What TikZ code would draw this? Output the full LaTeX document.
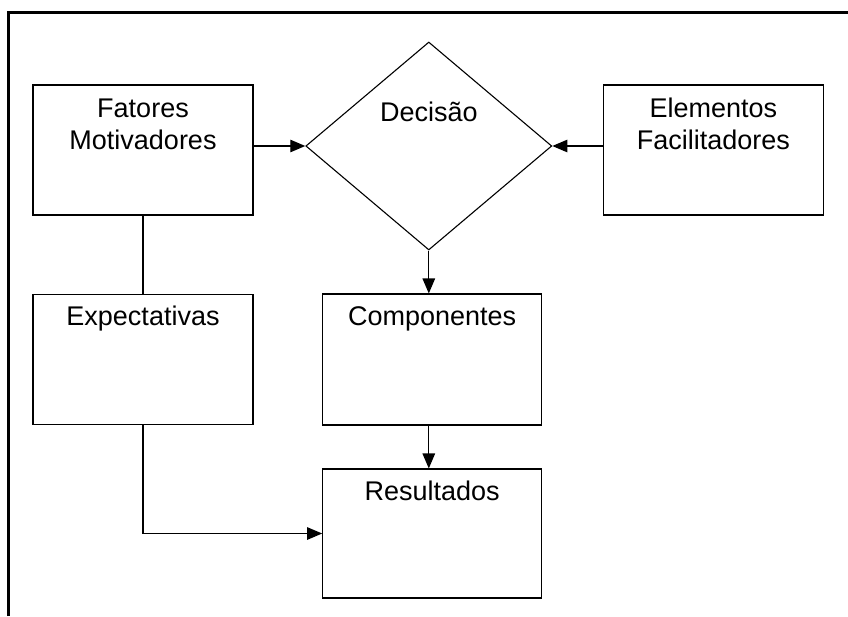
\documentclass[tikz,border=0pt]{standalone}
\usepackage{fontspec}
\setmainfont{Liberation Sans}
\usetikzlibrary{arrows.meta,shapes.geometric}
\begin{document}
\begin{tikzpicture}[x=1pt,y=-1pt,
  box/.style={draw=black, line width=1.1pt, rectangle, inner sep=0pt},
  decision/.style={draw=black, line width=1.1pt, diamond, inner sep=0pt},
  txt/.style={font=\fontsize{27}{32}\selectfont, align=center, inner sep=0pt, anchor=base},
  conn/.style={draw=black, line width=1.1pt},
  arr/.style={conn, -{Triangle[length=15pt,width=12.5pt]}},
  frame/.style={draw=black, line width=3pt}]
\useasboundingbox (0,0) rectangle (848,616);
\draw[frame] (8.8,616) -- (8.8,12.2) -- (848,12.2);
% boxes
\node[box, minimum width=220pt, minimum height=130pt] (fm) at (143,150) {};
\node[txt] (fmt) at ([yshift=-65pt]fm.north) {Fatores\\Motivadores};
\node[decision, minimum width=246pt, minimum height=208pt] (dec) at (428.8,146) {};
\node[txt] (dect) at (428.8,121.7) {Decisão};
\node[box, minimum width=220pt, minimum height=130pt] (ef) at (713.3,150) {};
\node[txt] (eft) at ([yshift=-65pt]ef.north) {Elementos\\Facilitadores};
\node[box, minimum width=220pt, minimum height=130pt] (ex) at (143,359.2) {};
\node[txt] (ext) at ([yshift=-32pt]ex.north) {Expectativas};
\node[box, minimum width=219pt, minimum height=131pt] (co) at (432.2,359.5) {};
\node[txt] (cot) at ([yshift=-32pt]co.north) {Componentes};
\node[box, minimum width=219pt, minimum height=129pt] (re) at (432.2,533.5) {};
\node[txt] (ret) at ([yshift=-32pt]re.north) {Resultados};
% connectors
\draw[arr] (fm.east |- dec.west) -- (dec.west);
\draw[arr] (ef.west |- dec.east) -- (dec.east);
\draw[conn] (fm.south) -- (ex.north);
\draw[arr] (dec.south) -- (dec.south |- co.north);
\draw[arr] (co.south -| dec.south) -- (dec.south |- re.north);
\coordinate (bend) at (ex.south |- re.west);
\draw[arr] (ex.south) -- (bend) -- (re.west);
\end{tikzpicture}
\end{document}
